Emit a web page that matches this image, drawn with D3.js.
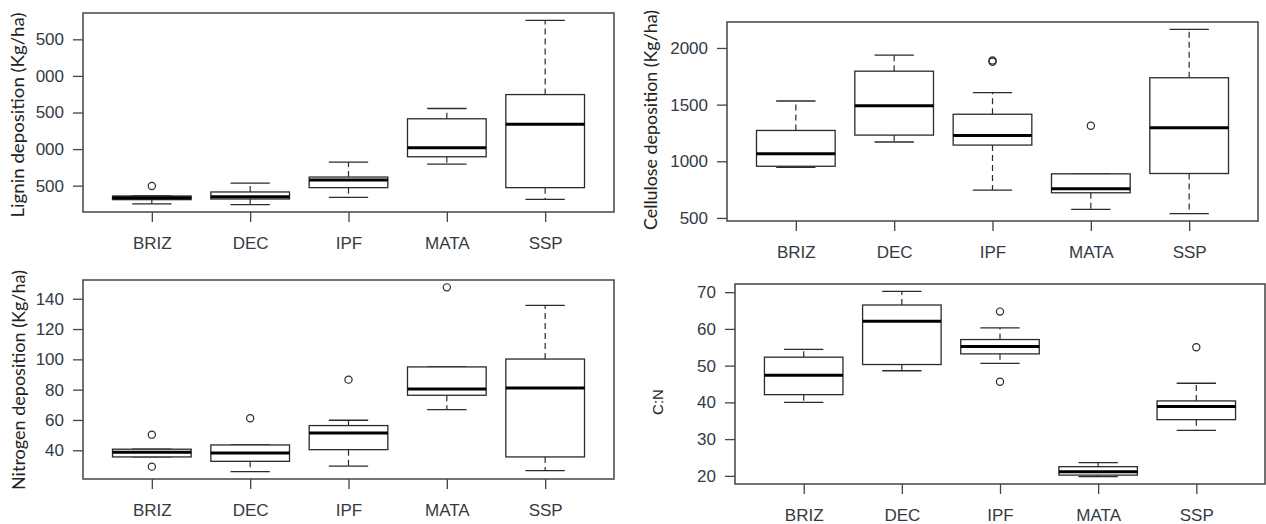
<!DOCTYPE html>
<html>
<head>
<meta charset="utf-8">
<script src="https://cdn.jsdelivr.net/npm/d3@7"></script>
<style>
  html, body { margin: 0; padding: 0; background: #fff; }
  svg { display: block; }
</style>
</head>
<body>
<svg id="chart" width="1266" height="524"></svg>
<script>
// ---------------- DATA ----------------
const categories = ["BRIZ", "DEC", "IPF", "MATA", "SSP"];

// Lignin deposition (Kg/ha)
const ligninLow      = [250, 241, 341, 795, 314];
const ligninQ1       = [309, 318, 473, 895, 473];
const ligninMedian   = [336, 350, 577, 1018, 1341];
const ligninQ3       = [359, 414, 618, 1414, 1745];
const ligninHigh     = [359, 536, 823, 1555, 2759];
const ligninOutliers = [[495], [], [], [], []];
const ligninTicks      = [500, 1000, 1500, 2000, 2500];
const ligninTickLabels = ["500", "000", "500", "000", "500"];

// Cellulose deposition (Kg/ha)
const celluloseLow      = [947, 1170, 746, 576, 538];
const celluloseQ1       = [956, 1231, 1143, 722, 892];
const celluloseMedian   = [1067, 1491, 1228, 757, 1295];
const celluloseQ3       = [1272, 1795, 1415, 889, 1737];
const celluloseHigh     = [1532, 1936, 1605, 889, 2164];
const celluloseOutliers = [[], [], [1878, 1890], [1313], []];
const celluloseTicks      = [500, 1000, 1500, 2000];
const celluloseTickLabels = ["500", "1000", "1500", "2000"];

// Nitrogen deposition (Kg/ha)
const nitrogenLow      = [35.6, 25.9, 29.5, 66.8, 26.6];
const nitrogenQ1       = [35.6, 32.7, 40.4, 76.3, 35.6];
const nitrogenMedian   = [38.7, 38.2, 51.4, 80.4, 81.1];
const nitrogenQ3       = [40.7, 43.5, 56.3, 95.0, 100.2];
const nitrogenHigh     = [40.7, 43.5, 59.8, 95.0, 135.6];
const nitrogenOutliers = [[50.3, 29.2], [61.1], [86.6], [147.5], []];
const nitrogenTicks      = [40, 60, 80, 100, 120, 140];
const nitrogenTickLabels = ["40", "60", "80", "100", "120", "140"];

// C:N
const cnLow      = [40.0, 48.6, 50.6, 19.8, 32.4];
const cnQ1       = [42.1, 50.3, 53.2, 20.2, 35.3];
const cnMedian   = [47.4, 62.1, 55.2, 21.1, 38.9];
const cnQ3       = [52.3, 66.5, 57.1, 22.5, 40.4];
const cnHigh     = [54.4, 70.2, 60.3, 23.6, 45.2];
const cnOutliers = [[], [], [64.7, 45.6], [], [55.0]];
const cnTicks      = [20, 30, 40, 50, 60, 70];
const cnTickLabels = ["20", "30", "40", "50", "60", "70"];

// ---------------- LAYOUT ----------------
const panels = [
  { title: "Lignin deposition (Kg/ha)", titleFont: "Lato", titleSize: 17, titleX: 17, titleY: 115, titleLen: 205,
    frame: { x0: 83, x1: 614, y0: 13, y1: 212 },
    low: ligninLow, q1: ligninQ1, med: ligninMedian, q3: ligninQ3, high: ligninHigh, out: ligninOutliers,
    ticks: ligninTicks, tickLabels: ligninTickLabels },
  { title: "Cellulose deposition (Kg/ha)", titleFont: "Lato", titleSize: 17, titleX: 650, titleY: 120, titleLen: 220,
    frame: { x0: 727, x1: 1258, y0: 22, y1: 221 },
    low: celluloseLow, q1: celluloseQ1, med: celluloseMedian, q3: celluloseQ3, high: celluloseHigh, out: celluloseOutliers,
    ticks: celluloseTicks, tickLabels: celluloseTickLabels },
  { title: "Nitrogen deposition (Kg/ha)", titleFont: "Lato", titleSize: 17, titleX: 18, titleY: 380, titleLen: 220,
    frame: { x0: 83, x1: 614, y0: 280, y1: 479 },
    low: nitrogenLow, q1: nitrogenQ1, med: nitrogenMedian, q3: nitrogenQ3, high: nitrogenHigh, out: nitrogenOutliers,
    ticks: nitrogenTicks, tickLabels: nitrogenTickLabels },
  { title: "C:N", titleFont: "Liberation Sans, Arial, sans-serif", titleSize: 15, titleX: 657, titleY: 402, titleLen: null,
    frame: { x0: 735, x1: 1265, y0: 284, y1: 484 },
    low: cnLow, q1: cnQ1, med: cnMedian, q3: cnQ3, high: cnHigh, out: cnOutliers,
    ticks: cnTicks, tickLabels: cnTickLabels }
];

const svg = d3.select("#chart");
const tickFont = "Liberation Sans, Arial, sans-serif";
const ink = "#2b2b2b";

panels.forEach(p => {
  const f = p.frame;
  const allVals = [].concat(p.low, p.high, ...p.out);
  const [mn, mx] = d3.extent(allVals);
  const pad = (mx - mn) * 0.04;
  const y = d3.scaleLinear().domain([mn - pad, mx + pad]).range([f.y1, f.y0]);
  const x = d3.scalePoint().domain(categories).range([f.x0, f.x1]).padding(0.7);
  const step = x.step();
  const bw = step * 0.8;
  const sw = step * 0.4;

  const g = svg.append("g");

  // y axis
  const yAxis = d3.axisLeft(y).tickValues(p.ticks)
    .tickFormat((d, i) => p.tickLabels[i]).tickSize(10).tickPadding(9);
  const ya = g.append("g").attr("transform", `translate(${f.x0},0)`).call(yAxis);
  ya.select(".domain").remove();
  ya.selectAll(".tick line").attr("stroke", "#444").attr("stroke-width", 1.3);
  ya.selectAll(".tick text").attr("font-family", tickFont).attr("font-size", 17)
    .attr("fill", "#333a44");

  // x axis
  const xAxis = d3.axisBottom(x).tickSize(10).tickPadding(15);
  const xa = g.append("g").attr("transform", `translate(0,${f.y1})`).call(xAxis);
  xa.select(".domain").remove();
  xa.selectAll(".tick line").attr("stroke", "#444").attr("stroke-width", 1.3);
  xa.selectAll(".tick text").attr("font-family", tickFont).attr("font-size", 17)
    .attr("fill", "#333a44");

  // boxes
  const idx = d3.range(categories.length);
  const bx = g.selectAll("g.box").data(idx).enter().append("g").attr("class", "box");

  // whiskers (dashed)
  bx.append("line")
    .attr("x1", i => x(categories[i])).attr("x2", i => x(categories[i]))
    .attr("y1", i => y(p.q3[i])).attr("y2", i => y(p.high[i]))
    .attr("stroke", ink).attr("stroke-width", 1.2).attr("stroke-dasharray", "6,4");
  bx.append("line")
    .attr("x1", i => x(categories[i])).attr("x2", i => x(categories[i]))
    .attr("y1", i => y(p.q1[i])).attr("y2", i => y(p.low[i]))
    .attr("stroke", ink).attr("stroke-width", 1.2).attr("stroke-dasharray", "6,4");
  // staples
  bx.append("line")
    .attr("x1", i => x(categories[i]) - sw / 2).attr("x2", i => x(categories[i]) + sw / 2)
    .attr("y1", i => y(p.high[i])).attr("y2", i => y(p.high[i]))
    .attr("stroke", ink).attr("stroke-width", 1.3);
  bx.append("line")
    .attr("x1", i => x(categories[i]) - sw / 2).attr("x2", i => x(categories[i]) + sw / 2)
    .attr("y1", i => y(p.low[i])).attr("y2", i => y(p.low[i]))
    .attr("stroke", ink).attr("stroke-width", 1.3);
  // box
  bx.append("rect")
    .attr("x", i => x(categories[i]) - bw / 2).attr("width", bw)
    .attr("y", i => y(p.q3[i])).attr("height", i => y(p.q1[i]) - y(p.q3[i]))
    .attr("fill", "#fff").attr("stroke", ink).attr("stroke-width", 1.3);
  // median
  bx.append("line")
    .attr("x1", i => x(categories[i]) - bw / 2).attr("x2", i => x(categories[i]) + bw / 2)
    .attr("y1", i => y(p.med[i])).attr("y2", i => y(p.med[i]))
    .attr("stroke", "#000").attr("stroke-width", 3);
  // outliers
  const outPts = [];
  p.out.forEach((arr, i) => arr.forEach(v => outPts.push({ c: categories[i], v })));
  g.selectAll("circle.out").data(outPts).enter().append("circle")
    .attr("cx", d => x(d.c)).attr("cy", d => y(d.v)).attr("r", 3.6)
    .attr("fill", "none").attr("stroke", ink).attr("stroke-width", 1.2);

  // frame
  g.append("rect").attr("x", f.x0).attr("y", f.y0)
    .attr("width", f.x1 - f.x0).attr("height", f.y1 - f.y0)
    .attr("fill", "none").attr("stroke", "#444").attr("stroke-width", 1.5);

  // y title
  const t = g.append("text")
    .attr("transform", `translate(${p.titleX},${p.titleY}) rotate(-90)`)
    .attr("text-anchor", "middle").attr("dominant-baseline", "central")
    .attr("font-family", p.titleFont).attr("font-size", p.titleSize)
    .attr("fill", "#222").text(p.title);
  if (p.titleLen) t.attr("textLength", p.titleLen).attr("lengthAdjust", "spacingAndGlyphs");
});
</script>
</body>
</html>
